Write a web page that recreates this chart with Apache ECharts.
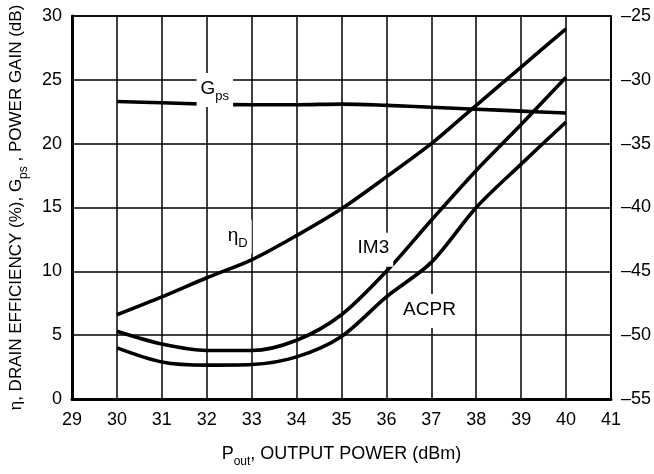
<!DOCTYPE html>
<html>
<head>
<meta charset="utf-8">
<script src="https://cdn.jsdelivr.net/npm/echarts@6/dist/echarts.min.js"></script>
<style>
    html, body { margin: 0; padding: 0; background: #fff; }
    #chart { width: 654px; height: 474px; }
</style>
</head>
<body>
<div id="chart"></div>
<script>
const FONT = "'Liberation Sans Narrow', 'Arial Narrow', 'Liberation Sans', sans-serif";

// left axis: efficiency (%) and gain (dB) vs Pout (dBm)
const gpsData = [
    [30, 23.3], [31, 23.2], [32, 23.1], [33, 23.05], [34, 23.05], [35, 23.1],
    [36, 23.0], [37, 22.85], [38, 22.7], [39, 22.55], [40, 22.4],
];
const effData = [
    [30, 6.6], [31, 8.0], [32, 9.5], [33, 10.9], [34, 12.8], [35, 14.9],
    [36, 17.4], [37, 20.0], [37.7, 22.1], [38, 23.0], [39, 26.0], [40, 29.0],
];
// right axis: IM3 and ACPR (dBc)
const im3Data = [
    [30, -49.7], [31, -50.7], [32, -51.2], [33, -51.2],
    [34, -50.4], [35, -48.4], [36, -45.0],
    [37, -41.0], [38, -37.1], [39, -33.5], [40, -29.8],
];
const acprData = [
    [30, -51.0], [31, -52.1], [32, -52.35], [33, -52.3], [34, -51.7], [35, -50.1],
    [36, -47.0], [37, -44.3], [38, -40.0], [39, -36.6], [40, -33.3],
];

// curve labels, placed in left-axis units
const curveLabels = [
    { coord: [32.18, 24.2], text: '{a|G}{s|ps}' },
    { coord: [32.69, 12.7], text: '{a|η}{s|D}' },
    { coord: [35.71, 11.7], text: '{a|IM3}' },
    { coord: [36.96, 6.9], text: '{a|ACPR}' },
];

const chart = echarts.init(document.getElementById('chart'));

const lineStyle = { color: '#000', width: 3.6 };

const subRich = (big, small) => ({
    a: { fontSize: big, lineHeight: big + 5, verticalAlign: 'top', fontFamily: FONT, color: '#000' },
    s: { fontSize: small, lineHeight: small, verticalAlign: 'bottom', fontFamily: FONT, color: '#000' },
});

const option = {
    animation: false,
    backgroundColor: '#fff',
    textStyle: { fontFamily: FONT },
    grid: {
        left: 67, right: 40, top: 16, bottom: 75,
        show: true, borderColor: '#000', borderWidth: 1.5,
    },
    xAxis: {
        type: 'value',
        min: 29, max: 41, interval: 1,
        axisLine: { show: true, lineStyle: { color: '#000', width: 3 } },
        axisTick: { show: false },
        axisLabel: { color: '#000', fontSize: 18, margin: 12, fontFamily: FONT },
        splitLine: { show: true, lineStyle: { color: '#000', width: 1.5 } },
        name: '{a|P}{s|out}{a|, OUTPUT POWER (dBm)}',
        nameLocation: 'middle',
        nameGap: 46,
        nameTextStyle: { rich: subRich(18, 12) },
    },
    yAxis: [
        {
            type: 'value',
            min: 0, max: 30, interval: 5,
            axisLine: { show: true, lineStyle: { color: '#000', width: 3 } },
            axisTick: { show: false },
            axisLabel: { color: '#000', fontSize: 18, margin: 10, fontFamily: FONT },
            splitLine: { show: true, lineStyle: { color: '#000', width: 1.5 } },
            name: '{a|η, DRAIN EFFICIENCY (%), G}{s|ps}{a| , POWER GAIN (dB)}',
            nameLocation: 'middle',
            nameRotate: 90,
            nameGap: 42,
            nameTextStyle: { rich: subRich(17, 12) },
        },
        {
            type: 'value',
            min: -55, max: -25, interval: 5,
            position: 'right',
            axisLine: { show: true, lineStyle: { color: '#000', width: 1.5 } },
            axisTick: { show: false },
            axisLabel: {
                color: '#000', fontSize: 18, margin: 10, fontFamily: FONT,
                formatter: (v) => String(v).replace('-', '–'),
            },
            splitLine: { show: false },
        },
    ],
    series: [
        {
            name: 'labels', type: 'scatter', data: [], z: 2, silent: true,
            markPoint: {
                symbol: 'rect',
                symbolSize: 1,
                itemStyle: { color: 'rgba(0,0,0,0)' },
                data: curveLabels.map((l) => ({
                    coord: l.coord,
                    label: {
                        show: true,
                        position: 'inside',
                        formatter: l.text,
                        backgroundColor: '#fff',
                        padding: [6, 4, 4, 4],
                        rich: subRich(19, 13),
                    },
                })),
            },
        },
        {
            name: 'Gps', type: 'line', data: gpsData, smooth: 0.3,
            showSymbol: false, lineStyle: lineStyle, z: 3,
        },
        {
            name: 'ηD', type: 'line', data: effData, smooth: 0.3,
            showSymbol: false, lineStyle: lineStyle, z: 3,
        },
        {
            name: 'IM3', type: 'line', yAxisIndex: 1, data: im3Data, smooth: 0.3,
            showSymbol: false, lineStyle: lineStyle, z: 3,
        },
        {
            name: 'ACPR', type: 'line', yAxisIndex: 1, data: acprData, smooth: 0.3,
            showSymbol: false, lineStyle: lineStyle, z: 3,
        },
    ],
};

chart.setOption(option);
</script>
</body>
</html>
